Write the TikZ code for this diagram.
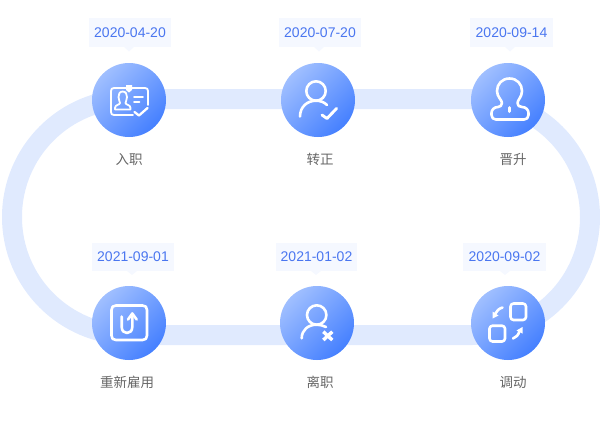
\documentclass[tikz,border=0pt]{standalone}
\usepackage{fontspec}
\setmainfont{Liberation Sans}
\newfontfamily\cjk{Noto Sans CJK SC}
\definecolor{track}{HTML}{E0EAFE}
\definecolor{boxbg}{HTML}{F5F8FF}
\definecolor{datec}{HTML}{4A76F0}
\definecolor{labelc}{HTML}{666666}
\definecolor{gradl}{HTML}{A0BFFF}
\definecolor{gradd}{HTML}{4580FF}
\tikzset{
  trackline/.style={draw=track,line width=20pt},
  disc/.style={circle,minimum size=74pt,inner sep=0pt,top color=gradl,bottom color=gradd,shading angle=45},
  datebox/.style={fill=boxbg,inner sep=0pt,minimum height=29pt,text=datec,font=\fontsize{14}{14}\selectfont},
  tailfill/.style={fill=boxbg},
  steplabel/.style={inner sep=0pt,text=labelc,font=\cjk\fontsize{13.5}{14}\selectfont},
  icon/.style={draw=white,line width=2.6pt,line cap=round,line join=round},
  iconthin/.style={draw=white,line width=1.8pt,line cap=round,line join=round},
  iconfill/.style={fill=white}
}
\begin{document}
\begin{tikzpicture}[x=1pt,y=-1pt]
\useasboundingbox (0,0) rectangle (600,440);
% track
\draw[trackline,rounded corners=118pt] (12,99) rectangle (590,335);
% date boxes
\node[datebox,minimum width=82pt] (d1) at (130,32.5) {2020-04-20};
\node[datebox,minimum width=82pt] (d2) at (320,32.5) {2020-07-20};
\node[datebox,minimum width=83pt] (d3) at (511.5,32.5) {2020-09-14};
\node[datebox,minimum width=82pt,minimum height=28pt] (d4) at (133,257) {2021-09-01};
\node[datebox,minimum width=81pt,minimum height=28pt] (d5) at (316.5,257) {2021-01-02};
\node[datebox,minimum width=83pt,minimum height=28pt] (d6) at (504.5,257) {2020-09-02};
\fill[tailfill] (124,47) -- (129,51.5) -- (134,47) -- cycle;
\fill[tailfill] (314,47) -- (319,51.5) -- (324,47) -- cycle;
\fill[tailfill] (505,47) -- (510,51.5) -- (515,47) -- cycle;
\fill[tailfill] (127,271) -- (132,275) -- (137,271) -- cycle;
\fill[tailfill] (311,271) -- (316,275) -- (321,271) -- cycle;
\fill[tailfill] (500,271) -- (505,275) -- (510,271) -- cycle;
% discs
\node[disc] (c1) at (129,100) {};
\node[disc] (c2) at (318,100) {};
\node[disc] (c3) at (508,100) {};
\node[disc] (c4) at (129,323) {};
\node[disc] (c5) at (317,323) {};
\node[disc] (c6) at (508,323) {};
% labels
\node[steplabel] (l1) at (129,159.5) {入职};
\node[steplabel] (l2) at (320,159.5) {转正};
\node[steplabel] (l3) at (513,159.5) {晋升};
\node[steplabel] (l4) at (127,382.5) {重新雇用};
\node[steplabel] (l5) at (320,382.5) {离职};
\node[steplabel] (l6) at (513,382.5) {调动};
% icon 1: badge
\draw[iconthin] (133,115) -- (114,115) .. controls (112,115) and (111,114) .. (111,112) -- (111,91) .. controls (111,89) and (112,88) .. (114,88) -- (145,88) .. controls (147,88) and (148,89) .. (148,91) -- (148,105);
\fill[iconfill] (126,85) -- (132,85) -- (132,90) -- (129,92.5) -- (126,90) -- cycle;
\draw[iconthin] (122.7,91.5) .. controls (119.5,91.5) and (118.5,94.5) .. (118.5,97) .. controls (118.5,100) and (120,101.5) .. (120,103) .. controls (120,105) and (115,104.5) .. (115,108) -- (115,109.5) -- (130.5,109.5) -- (130.5,108) .. controls (130.5,104.5) and (125.5,105) .. (125.5,103) .. controls (125.5,101.5) and (127,100) .. (127,97) .. controls (127,94.5) and (126,91.5) .. (122.7,91.5) -- cycle;
\draw[iconthin] (134,97.3) -- (143,97.3);
\draw[iconthin] (134,101.7) -- (139.5,101.7);
\draw[icon,line width=2.3pt] (134.5,112) -- (139,115.5) -- (147.5,108);
% icon 2: person check
\draw[icon] (316,91) circle[radius=9.7];
\draw[icon] (300,116.5) .. controls (300,107) and (307,100.7) .. (316,100.7) .. controls (320,100.7) and (324,102) .. (327,105);
\draw[icon,line width=2.9pt] (322,115) -- (327,118.5) -- (336.5,108.5);
% icon 3: bust
\draw[icon] (509.5,78.5) .. controls (517,78.5) and (522,84) .. (522,91) .. controls (522,97) and (517.5,100) .. (517.5,103) .. controls (517.5,105.5) and (519,107) .. (522,107) .. controls (526,107) and (528.5,110) .. (528.5,113) -- (528.5,115) .. controls (528.5,118) and (526.5,119.5) .. (524,119.5) -- (496,119.5) .. controls (493.5,119.5) and (491.5,118) .. (491.5,115) -- (491.5,113) .. controls (491.5,110) and (494,107) .. (498,107) .. controls (500,107) and (502,105.5) .. (502,103) .. controls (502,100) and (497,97) .. (497,91) .. controls (497,84) and (502,78.5) .. (509.5,78.5) -- cycle;
\draw[icon,line width=3pt] (509.7,107.5) -- (509.7,111.5);
% icon 4: U-turn
\draw[icon] (116,305.5) -- (142.5,305.5) .. controls (145.5,305.5) and (147,307) .. (147,310) -- (147,335.5) .. controls (147,338.5) and (145.5,340) .. (142.5,340) -- (116,340) .. controls (113,340) and (111.5,338.5) .. (111.5,335.5) -- (111.5,310) .. controls (111.5,307) and (113,305.5) .. (116,305.5) -- cycle;
\draw[icon] (121.7,316.5) -- (121.7,327) .. controls (121.7,335) and (132.3,335) .. (132.3,327) -- (132.3,314);
\draw[icon] (128,319.5) -- (132.3,313.5) -- (136.7,319.5);
% icon 5: person cross
\draw[icon] (316.7,315) circle[radius=9.7];
\draw[icon] (301.7,338.3) .. controls (301.7,330) and (308,324.7) .. (316.7,324.7) .. controls (320,324.7) and (323,325.5) .. (326,327);
\draw[icon,line width=3.4pt,line cap=butt] (323.3,331.7) -- (332.3,340);
\draw[icon,line width=3.4pt,line cap=butt] (332.3,331.7) -- (323.3,340);
% icon 6: swap
\draw[icon,rounded corners=3pt] (510.5,303.5) rectangle (526,320);
\draw[icon,rounded corners=3pt] (489.5,325.7) rectangle (505,341.5);
\draw[icon] (502.5,307.5) .. controls (499,308.5) and (496.5,311) .. (495,314);
\fill[iconfill] (492.5,318.5) -- (492.5,311.5) -- (498.5,315.5) -- cycle;
\draw[icon] (513,338.5) .. controls (516,337.5) and (518.5,335) .. (519.5,331);
\fill[iconfill] (522.5,327) -- (522.5,333.5) -- (516.5,330.5) -- cycle;
\end{tikzpicture}
\end{document}
